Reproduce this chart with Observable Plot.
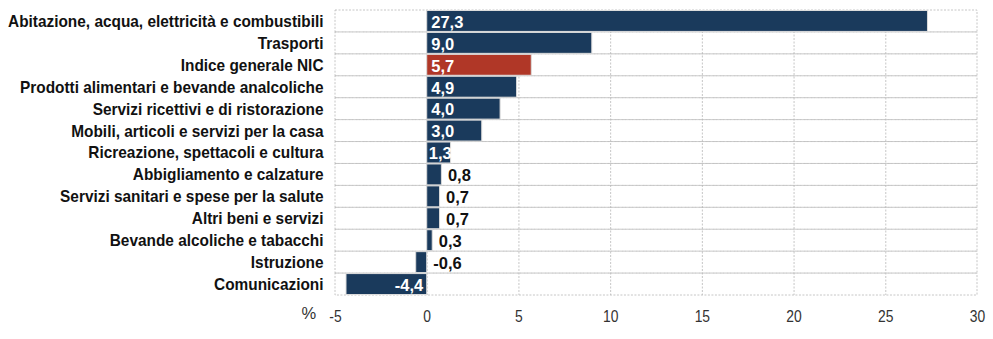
<!DOCTYPE html>
<html>
<head>
<meta charset="utf-8">
<script src="https://cdn.jsdelivr.net/npm/d3@7"></script>
<script src="https://cdn.jsdelivr.net/npm/@observablehq/plot@0.6"></script>
<style>
  html, body { margin: 0; padding: 0; background: #fff; }
</style>
</head>
<body>
<div id="chart"></div>
<script>
const categories = [
  "Abitazione, acqua, elettricità e combustibili",
  "Trasporti",
  "Indice generale NIC",
  "Prodotti alimentari e bevande analcoliche",
  "Servizi ricettivi e di ristorazione",
  "Mobili, articoli e servizi per la casa",
  "Ricreazione, spettacoli e cultura",
  "Abbigliamento e calzature",
  "Servizi sanitari e spese per la salute",
  "Altri beni e servizi",
  "Bevande alcoliche e tabacchi",
  "Istruzione",
  "Comunicazioni"
];
const values = [27.3, 9.0, 5.7, 4.9, 4.0, 3.0, 1.3, 0.8, 0.7, 0.7, 0.3, -0.6, -4.4];
const highlight = "Indice generale NIC";
const xTicks = [-5, 0, 5, 10, 15, 20, 25, 30];
const unitLabel = "%";

const data = categories.map((c, i) => ({cat: c, v: values[i]}));
const fmt = v => v.toFixed(1).replace(".", ",");
const insidePos = data.filter(d => d.v >= 2);
const insideNarrow = data.filter(d => d.v >= 1 && d.v < 2);
const insideNeg = data.filter(d => d.v <= -1);
const outside = data.filter(d => Math.abs(d.v) < 1);

const navy = "#1a3a5c";
const red = "#b03727";
const gridStroke = "#b8b8b8";

const chart = Plot.plot({
  width: 993,
  height: 339,
  marginLeft: 335,
  marginRight: 16,
  marginTop: 10,
  marginBottom: 44,
  style: {fontFamily: "'Liberation Sans', Arial, sans-serif", background: "#fff"},
  x: {domain: [-5, 30]},
  y: {domain: categories, padding: 0, round: false},
  marks: [
    Plot.barX(categories, {x1: -5, x2: 30, y: d => d, fill: "none", stroke: gridStroke, strokeWidth: 0.8, strokeDasharray: "2,1.5"}),
    Plot.ruleX(xTicks.slice(1, -1), {stroke: gridStroke, strokeWidth: 0.8, strokeDasharray: "2,1.5"}),
    Plot.barX(data, {
      x: "v", y: "cat",
      fill: d => d.cat === highlight ? red : navy,
      stroke: "#dcdcdc", strokeWidth: 1,
      insetTop: 0.5, insetBottom: 0.5
    }),
    Plot.text(insidePos, {x: 0, y: "cat", text: d => fmt(d.v), textAnchor: "start", dx: 4, dy: 1, fill: "white", fontSize: 16.5, fontWeight: "bold", ariaLabel: "vlabel"}),
    Plot.text(insideNarrow, {x: 0, y: "cat", text: d => fmt(d.v), textAnchor: "start", dx: 1.5, dy: 1, fill: "white", fontSize: 16.5, fontWeight: "bold", ariaLabel: "vnarrow"}),
    Plot.text(insideNeg, {x: 0, y: "cat", text: d => fmt(d.v), textAnchor: "end", dx: -4, dy: 1, fill: "white", fontSize: 16.5, fontWeight: "bold", ariaLabel: "vlabel"}),
    Plot.text(outside, {x: d => Math.max(d.v, 0), y: "cat", text: d => fmt(d.v), textAnchor: "start", dx: 6, dy: 1, fill: "#111", fontSize: 16.5, fontWeight: "bold", ariaLabel: "vlabel"}),
    Plot.axisX({ticks: xTicks, tickSize: 0, tickPadding: 15, tickFormat: d => String(d), fontSize: 16.5, fill: "#333", label: null}),
    Plot.axisY({tickSize: 0, tickPadding: 12, fontSize: 17, fontWeight: "bold", fill: "#111", label: null}),
    Plot.text([unitLabel], {frameAnchor: "bottom-left", dx: -34, dy: 23, fontSize: 16.5, fill: "#333", ariaLabel: "unit"})
  ]
});
document.getElementById("chart").appendChild(chart);

function squeeze(selector, k) {
  chart.querySelectorAll(selector).forEach(t => {
    const L = t.getComputedTextLength();
    if (L > 0) {
      t.setAttribute("textLength", (L * k).toFixed(2));
      t.setAttribute("lengthAdjust", "spacingAndGlyphs");
    }
  });
}
squeeze('g[aria-label="y-axis tick label"] text', 0.905);
squeeze('g[aria-label="x-axis tick label"] text', 0.84);
squeeze('g[aria-label="vlabel"] text', 0.84);
squeeze('g[aria-label="vnarrow"] text', 0.76);
squeeze('g[aria-label="unit"] text', 0.84);
</script>
</body>
</html>
